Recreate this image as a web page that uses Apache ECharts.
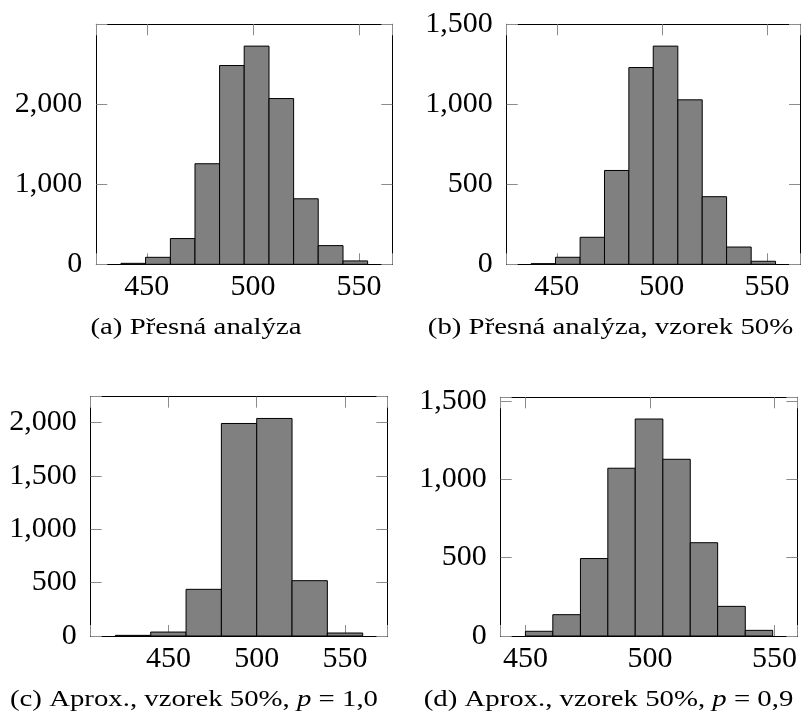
<!DOCTYPE html>
<html>
<head>
<meta charset="utf-8">
<script src="https://cdn.jsdelivr.net/npm/echarts@6/dist/echarts.min.js"></script>
<style>
html,body{margin:0;padding:0;background:#fff;}
#chart{width:803px;height:717px;}
</style>
</head>
<body>
<div id="chart"></div>
<script>
// ---- data ----
// (a) Přesná analýza
var edgesA = [437.8, 449.4, 461.1, 472.7, 484.3, 495.9, 507.6, 519.2, 530.8, 542.5, 554.1];
var countsA = [12, 87, 321, 1254, 2479, 2721, 2067, 817, 233, 42];
// (b) Přesná analýza, vzorek 50%
var edgesB = [437.8, 449.4, 461.1, 472.7, 484.3, 495.9, 507.6, 519.2, 530.8, 542.5, 554.1];
var countsB = [4, 44, 169, 587, 1231, 1365, 1029, 423, 108, 19];
// (c) Aprox., vzorek 50%, p = 1,0
var edgesC = [420, 440, 460, 480, 500, 520, 540, 560];
var countsC = [6, 37, 437, 1990, 2037, 518, 28];
// (d) Aprox., vzorek 50%, p = 0,9
var edgesD = [450, 461.0, 472.1, 483.1, 494.1, 505.2, 516.2, 527.2, 538.3, 549.3];
var countsD = [30, 136, 494, 1070, 1384, 1127, 595, 189, 36];

var xTickStep = 50;
var yTickSteps = [1000, 500, 500, 500];
var captions = [
  '(a) Přesná analýza',
  '(b) Přesná analýza, vzorek 50%',
  '(c) Aprox., vzorek 50%, {i|p} = 1,0',
  '(d) Aprox., vzorek 50%, {i|p} = 0,9'
];

// ---- layout ----
var FONT = 'Liberation Serif';
var grids = [
  {left: 96.3, top: 24.3, width: 296, height: 240},
  {left: 506.7, top: 24.3, width: 295, height: 240},
  {left: 90.7, top: 396.7, width: 296.7, height: 239.3},
  {left: 500.7, top: 397.3, width: 296.7, height: 238.7}
];
var captionPos = [[196, 328], [610.5, 328], [194, 700], [608.5, 700]];
var CAP_SIZE = 23;

// horizontal stretch so the serif captions take the width of the original (wider) typeface
var mctx = document.createElement('canvas').getContext('2d');
mctx.font = CAP_SIZE + 'px "' + FONT + '"';
var plainC = '(c) Aprox., vzorek 50%, p = 1,0';
var capScale = 368 / mctx.measureText(plainC).width;

var panels = [
  {edges: edgesA, counts: countsA},
  {edges: edgesB, counts: countsB},
  {edges: edgesC, counts: countsC},
  {edges: edgesD, counts: countsD}
];

function withCommas(v) {
  return String(v).replace(/\B(?=(\d{3})+(?!\d))/g, ',');
}

var xAxes = [], yAxes = [], series = [];
panels.forEach(function (p, i) {
  var e0 = p.edges[0], e1 = p.edges[p.edges.length - 1];
  var pad = (e1 - e0) * 0.1;
  var xmin = e0 - pad, xmax = e1 + pad;
  var ymax = Math.max.apply(null, p.counts) * 1.1;
  var ys = yTickSteps[i];
  var tickStyle = {show: true, inside: true, length: 11, lineStyle: {color: '#8c8c8c', width: 1}};
  var lineStyle = {show: true, onZero: false, lineStyle: {color: '#000', width: 1}};
  xAxes.push({
    type: 'value', gridIndex: i, position: 'bottom', min: xmin, max: xmax,
    minInterval: xTickStep, maxInterval: xTickStep, splitNumber: 3,
    axisLine: lineStyle, axisTick: tickStyle, splitLine: {show: false},
    axisLabel: {
      show: true, margin: 8, color: '#000', fontFamily: FONT, fontSize: 30,
      formatter: function (v) { return Math.abs(v / xTickStep - Math.round(v / xTickStep)) < 1e-6 ? String(Math.round(v)) : ''; }
    }
  });
  xAxes.push({
    type: 'value', gridIndex: i, position: 'top', min: xmin, max: xmax,
    minInterval: xTickStep, maxInterval: xTickStep, splitNumber: 3,
    axisLine: lineStyle, axisTick: tickStyle, splitLine: {show: false},
    axisLabel: {show: false}
  });
  yAxes.push({
    type: 'value', gridIndex: i, position: 'left', min: 0, max: ymax,
    minInterval: ys, maxInterval: ys, splitNumber: 3,
    axisLine: lineStyle, axisTick: tickStyle, splitLine: {show: false},
    axisLabel: {
      show: true, margin: 14, color: '#000', fontFamily: FONT, fontSize: 30,
      formatter: function (v) { return Math.abs(v / ys - Math.round(v / ys)) < 1e-6 ? withCommas(Math.round(v)) : ''; }
    }
  });
  yAxes.push({
    type: 'value', gridIndex: i, position: 'right', min: 0, max: ymax,
    minInterval: ys, maxInterval: ys, splitNumber: 3,
    axisLine: lineStyle, axisTick: tickStyle, splitLine: {show: false},
    axisLabel: {show: false}
  });
  var data = p.counts.map(function (c, k) { return [p.edges[k], p.edges[k + 1], c]; });
  series.push({
    type: 'custom', xAxisIndex: 2 * i, yAxisIndex: 2 * i,
    encode: {x: [0, 1], y: 2},
    data: data,
    renderItem: function (params, api) {
      var a = api.coord([api.value(0), api.value(2)]);
      var b = api.coord([api.value(1), 0]);
      return {
        type: 'rect',
        shape: {x: a[0], y: a[1], width: b[0] - a[0], height: b[1] - a[1]},
        style: {fill: '#808080', stroke: '#000', lineWidth: 1}
      };
    }
  });
});

var graphics = captions.map(function (t, i) {
  return {
    type: 'text', x: captionPos[i][0], y: captionPos[i][1], scaleX: capScale,
    style: {
      text: t, align: 'center', verticalAlign: 'middle',
      fontFamily: FONT, fontSize: CAP_SIZE, fill: '#000',
      rich: {i: {fontFamily: FONT, fontSize: CAP_SIZE, fontStyle: 'italic', fill: '#000'}}
    }
  };
});

var chart = echarts.init(document.getElementById('chart'), null, {renderer: 'canvas'});
chart.setOption({
  animation: false,
  backgroundColor: '#fff',
  grid: grids.map(function (g) { return Object.assign({containLabel: false}, g); }),
  xAxis: xAxes,
  yAxis: yAxes,
  series: series,
  graphic: graphics
});
</script>
</body>
</html>
